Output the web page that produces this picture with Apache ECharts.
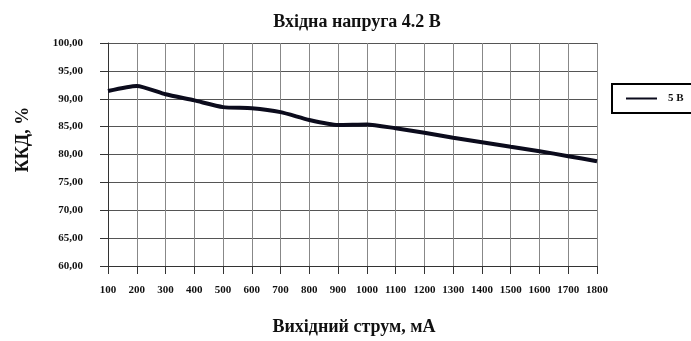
<!DOCTYPE html>
<html>
<head>
<meta charset="utf-8">
<script src="https://cdn.jsdelivr.net/npm/echarts@6/dist/echarts.min.js"></script>
<style>
  html, body { margin: 0; padding: 0; background: #fff; }
  #main { width: 691px; height: 341px; }
</style>
</head>
<body>
<div id="main"></div>
<script>
// вихідний струм, мА
var currents = ['100', '200', '300', '400', '500', '600', '700', '800', '900',
  '1000', '1100', '1200', '1300', '1400', '1500', '1600', '1700', '1800'];
// ККД, % при 5 В
var eff5v = [91.4, 92.3, 90.8, 89.7, 88.5, 88.3, 87.6, 86.2, 85.3,
  85.4, 84.7, 83.9, 83.0, 82.2, 81.4, 80.6, 79.7, 78.8];
var seriesName = '5 В';

var serif = '"Liberation Serif", "DejaVu Serif", serif';

var chart = echarts.init(document.getElementById('main'));
chart.setOption({
  animation: false,
  title: {
    text: 'Вхідна напруга 4.2 В',
    left: 352,
    textAlign: 'center',
    top: 8,
    textStyle: { fontFamily: serif, fontWeight: 'bold', fontSize: 18, color: '#111' }
  },
  legend: {
    data: [seriesName],
    left: 612,
    top: 84,
    orient: 'vertical',
    icon: 'rect',
    itemWidth: 31,
    itemHeight: 2,
    padding: [9, 16, 9, 14],
    borderColor: '#000',
    borderWidth: 2,
    textStyle: { fontFamily: serif, fontWeight: 'bold', fontSize: 11, color: '#111', padding: [0, 0, 0, 6] }
  },
  grid: { left: 108, right: 94, top: 43, bottom: 69 },
  xAxis: {
    type: 'category',
    boundaryGap: false,
    data: currents,
    name: 'Вихідний струм, мА',
    nameLocation: 'middle',
    nameGap: 52,
    nameTextStyle: { fontFamily: serif, fontWeight: 'bold', fontSize: 18, color: '#111', padding: [0, 0, 0, 3] },
    axisLine: { lineStyle: { color: '#333', width: 1 } },
    axisTick: { length: 8, lineStyle: { color: '#333' } },
    axisLabel: { interval: 0, margin: 19, fontFamily: serif, fontWeight: 'bold', fontSize: 11, color: '#111' },
    splitLine: { show: true, lineStyle: { color: '#888', width: 1 } }
  },
  yAxis: {
    type: 'value',
    min: 60,
    max: 100,
    interval: 5,
    name: 'ККД, %',
    nameLocation: 'middle',
    nameGap: 76,
    nameTextStyle: { fontFamily: serif, fontWeight: 'bold', fontSize: 18, color: '#111', padding: [0, 0, 0, 30] },
    axisLine: { show: true, lineStyle: { color: '#333', width: 1 } },
    axisTick: { show: true, length: 8, lineStyle: { color: '#333' } },
    axisLabel: {
      margin: 25,
      fontFamily: serif, fontWeight: 'bold', fontSize: 11, color: '#111',
      formatter: function (v) { return v.toFixed(2).replace('.', ','); }
    },
    splitLine: { show: true, lineStyle: { color: '#555', width: 1 } }
  },
  series: [{
    name: seriesName,
    type: 'line',
    data: eff5v,
    smooth: 0.2,
    symbol: 'none',
    lineStyle: { color: '#0b0b1c', width: 4 },
    itemStyle: { color: '#0b0b1c' }
  }]
});
</script>
</body>
</html>
